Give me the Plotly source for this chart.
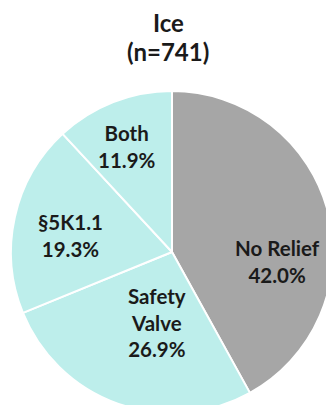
import math
import plotly.graph_objects as go

# Relief type breakdown for ice cases
categories = ["No Relief", "Safety Valve", "§5K1.1", "Both"]
shares = [42.0, 26.9, 19.3, 11.9]
slice_colors = ["#A6A6A6", "#BDEEEB", "#BDEEEB", "#BDEEEB"]
title_lines = ["Ice", "(n=741)"]

W, H = 344, 420
cx, cy, r = 172, 252, 161  # pie centre / radius in pixels

# label placement: (fraction of radius, angle clockwise from 12 o'clock)
label_polar = [(0.655, 95), (0.45, 192), (0.64, 279), (0.71, 337)]

fig = go.Figure(
    go.Pie(
        labels=categories,
        values=shares,
        textinfo="none",
        sort=False,
        direction="clockwise",
        rotation=0,
        marker=dict(colors=slice_colors, line=dict(color="white", width=2)),
        hoverinfo="label+value",
        showlegend=False,
        domain=dict(
            x=[(cx - r) / W, (cx + r) / W],
            y=[(H - cy - r) / H, (H - cy + r) / H],
        ),
    )
)

label_font = dict(family="Lato", size=20.5, color="#1a1a1a", weight="bold")
for name, share, (frac, ang) in zip(categories, shares, label_polar):
    t = math.radians(ang)
    px = cx + frac * r * math.sin(t)
    py = cy - frac * r * math.cos(t)
    fig.add_annotation(
        text=name.replace("Safety ", "Safety<br>") + f"<br>{share:.1f}%",
        x=px / W, y=1 - py / H, xref="paper", yref="paper",
        xanchor="center", yanchor="middle",
        showarrow=False, font=label_font, align="center",
    )

# two-line heading
title_font = dict(family="Lato", size=24, color="#1a1a1a", weight="bold")
for line, ty in zip(title_lines, [22, 51]):
    fig.add_annotation(
        text=line, x=168 / W, y=1 - ty / H, xref="paper", yref="paper",
        xanchor="center", yanchor="middle", showarrow=False, font=title_font,
    )

fig.update_layout(
    width=W,
    height=H,
    margin=dict(l=0, r=0, t=0, b=0),
    paper_bgcolor="white",
    plot_bgcolor="white",
)

fig.write_html(
    "out.html",
    post_script="document.body.style.overflow='hidden';document.documentElement.style.overflow='hidden';",
)
